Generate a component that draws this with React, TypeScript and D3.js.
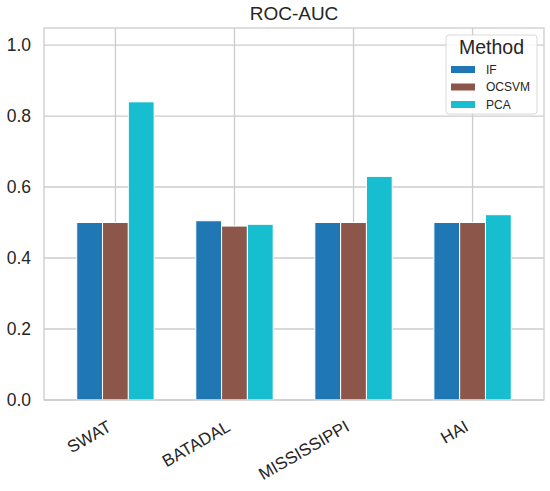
import React, { useEffect, useRef } from 'react'
import * as d3 from 'd3'

const datasets = ['SWAT', 'BATADAL', 'MISSISSIPPI', 'HAI']
const methods = ['IF', 'OCSVM', 'PCA']
const ifScores = [0.5, 0.505, 0.5, 0.5]
const ocsvmScores = [0.5, 0.49, 0.5, 0.5]
const pcaScores = [0.84, 0.495, 0.63, 0.522]
const yTicks = [0, 0.2, 0.4, 0.6, 0.8, 1.0]
const colors = ['#1f77b4', '#8c564b', '#17becf']

const W = 550
const H = 491
const FONT = '"Liberation Sans", Arial, sans-serif'
const TEXT = '#262626'
const GRID = '#cccccc'

const App: React.FC = () => {
  const ref = useRef<SVGSVGElement>(null)

  useEffect(() => {
    const series = [ifScores, ocsvmScores, pcaScores]
    const margin = { top: 28, right: 6, bottom: 91, left: 44 }
    const x0 = margin.left
    const x1 = W - margin.right
    const y0 = H - margin.bottom

    const svg = d3.select(ref.current).attr('width', W).attr('height', H)
    svg.selectAll('*').remove()

    const x = d3.scaleLinear().domain([-0.6, datasets.length - 0.4]).range([x0, x1])
    const y = d3.scaleLinear().domain([0, 1.048]).range([y0, margin.top])

    // grid
    svg
      .append('g')
      .selectAll('line.h')
      .data(yTicks)
      .enter()
      .append('line')
      .attr('x1', x0)
      .attr('x2', x1)
      .attr('y1', (d) => y(d))
      .attr('y2', (d) => y(d))
      .attr('stroke', GRID)
      .attr('stroke-width', 1.3)

    svg
      .append('g')
      .selectAll('line.v')
      .data(datasets)
      .enter()
      .append('line')
      .attr('x1', (_, i) => x(i))
      .attr('x2', (_, i) => x(i))
      .attr('y1', margin.top)
      .attr('y2', y0)
      .attr('stroke', GRID)
      .attr('stroke-width', 1.3)

    // bars
    const groupWidth = 0.65
    const bw = groupWidth / methods.length
    methods.forEach((m, j) => {
      svg
        .append('g')
        .selectAll('rect')
        .data(series[j])
        .enter()
        .append('rect')
        .attr('x', (_, i) => x(i - groupWidth / 2 + j * bw))
        .attr('width', x(bw) - x(0))
        .attr('y', (d) => y(d))
        .attr('height', (d) => y0 - y(d))
        .attr('fill', colors[j])
        .attr('stroke', '#ffffff')
        .attr('stroke-width', 1)
    })

    // frame
    svg
      .append('rect')
      .attr('x', x0)
      .attr('y', margin.top)
      .attr('width', x1 - x0)
      .attr('height', y0 - margin.top)
      .attr('fill', 'none')
      .attr('stroke', GRID)
      .attr('stroke-width', 1.3)

    // y tick labels
    svg
      .append('g')
      .selectAll('text')
      .data(yTicks)
      .enter()
      .append('text')
      .attr('x', 31)
      .attr('y', (d) => y(d))
      .attr('dy', '0.35em')
      .attr('text-anchor', 'end')
      .attr('font-family', FONT)
      .attr('font-size', 17.5)
      .attr('fill', TEXT)
      .text((d) => d3.format('.1f')(d))

    // x tick labels (rotated 30deg, right end of baseline near the tick)
    svg
      .append('g')
      .selectAll('text')
      .data(datasets)
      .enter()
      .append('text')
      .attr('transform', (_, i) => `translate(${x(i) - 3},${y0 + 30}) rotate(-30)`)
      .attr('text-anchor', 'end')
      .attr('font-family', FONT)
      .attr('font-size', 17)
      .attr('fill', TEXT)
      .text((d) => d)

    // title
    svg
      .append('text')
      .attr('x', (x0 + x1) / 2)
      .attr('y', 20)
      .attr('text-anchor', 'middle')
      .attr('font-family', FONT)
      .attr('font-size', 19)
      .attr('fill', TEXT)
      .text('ROC-AUC')

    // legend
    const lg = svg.append('g').attr('transform', 'translate(446,35)')
    lg.append('rect')
      .attr('width', 91)
      .attr('height', 79)
      .attr('rx', 3)
      .attr('fill', 'rgba(255,255,255,0.85)')
      .attr('stroke', '#d9d9d9')
      .attr('stroke-width', 1)
    lg.append('text')
      .attr('x', 45.5)
      .attr('y', 19)
      .attr('text-anchor', 'middle')
      .attr('font-family', FONT)
      .attr('font-size', 19.5)
      .attr('fill', TEXT)
      .text('Method')
    methods.forEach((m, j) => {
      const cy = 34.5 + j * 17.5
      lg.append('rect')
        .attr('x', 5)
        .attr('y', cy - 3.5)
        .attr('width', 24)
        .attr('height', 7)
        .attr('fill', colors[j])
      lg.append('text')
        .attr('x', 40)
        .attr('y', cy)
        .attr('dy', '0.35em')
        .attr('font-family', FONT)
        .attr('font-size', 12)
        .attr('fill', TEXT)
        .text(m)
    })
  }, [])

  return (
    <div style={{ position: 'absolute', left: 0, top: 0, background: '#ffffff' }}>
      <svg ref={ref} style={{ display: 'block' }} />
    </div>
  )
}

export default App
